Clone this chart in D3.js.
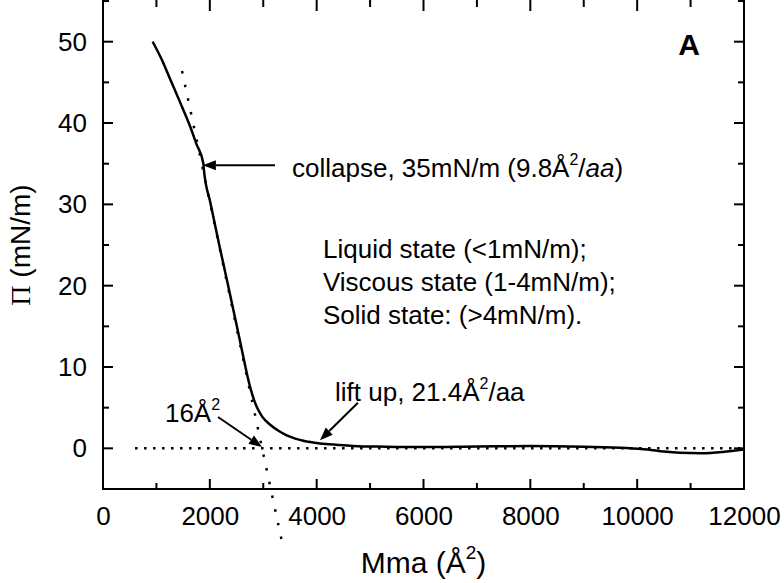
<!DOCTYPE html>
<html><head><meta charset="utf-8">
<script src="https://cdn.jsdelivr.net/npm/d3@7"></script>
<style>html,body{margin:0;padding:0;background:#fff;}svg{display:block;font-family:"Liberation Sans",Arial,sans-serif;}</style>
</head><body>
<svg id="c" width="784" height="583"></svg>
<script>
// Data: surface pressure isotherm
const areaX = [930, 1100, 1250, 1440, 1630, 1750, 1880, 1888, 2010, 2170, 2333, 2500, 2600, 2690, 2760, 2830, 2900, 2980, 3130, 3300, 3440, 3600, 3750, 4060, 4400, 4680, 5300, 5940, 7000, 8000, 9000, 9800, 10200, 10500, 10800, 11200, 11600, 12000];
const pressureY = [50, 47.8, 45.5, 42.6, 39.6, 37.4, 35.0, 34.3, 30.2, 25.2, 20.3, 15.2, 12.1, 9.3, 7.4, 5.9, 4.8, 3.9, 2.9, 2.1, 1.6, 1.2, 0.93, 0.6, 0.42, 0.3, 0.2, 0.15, 0.22, 0.28, 0.2, 0.05, -0.15, -0.4, -0.55, -0.6, -0.45, -0.15];
const tangentX = [1480, 3370];
const tangentY = [46.4, -12.1];
const baselineX = [600, 12000];
const baselineY = [0, 0];
const xTicks = [0, 2000, 4000, 6000, 8000, 10000, 12000];
const yTicks = [0, 10, 20, 30, 40, 50];

const svg = d3.select("#c");
const L = 103, R = 744, T = -1, B = 489;
const x = d3.scaleLinear().domain([0, 12000]).range([L, R]);
const y = d3.scaleLinear().domain([-5, 55.25]).range([B, T]);

function axes() {
  const g = svg.append("g");
  const minorX = d3.range(0, 12001, 1000);
  const minorY = d3.range(-5, 56, 5);
  g.append("rect").attr("x", L).attr("y", T).attr("width", R - L).attr("height", B - T)
    .attr("fill", "none").attr("stroke", "#000").attr("stroke-width", 2);
  minorX.forEach(v => {
    const len = v % 2000 === 0 ? 10 : 6;
    g.append("line").attr("x1", x(v)).attr("x2", x(v)).attr("y1", B).attr("y2", B - len).attr("stroke", "#000").attr("stroke-width", 2);
    g.append("line").attr("x1", x(v)).attr("x2", x(v)).attr("y1", T).attr("y2", T + len + 2).attr("stroke", "#000").attr("stroke-width", 2);
  });
  minorY.forEach(v => {
    const len = v % 10 === 0 ? 10 : 6;
    g.append("line").attr("y1", y(v)).attr("y2", y(v)).attr("x1", L).attr("x2", L + len).attr("stroke", "#000").attr("stroke-width", 2);
    g.append("line").attr("y1", y(v)).attr("y2", y(v)).attr("x1", R).attr("x2", R - len).attr("stroke", "#000").attr("stroke-width", 2);
  });
  const ax = svg.append("g").attr("transform", `translate(0,${B})`)
    .call(d3.axisBottom(x).tickValues(xTicks).tickSize(0).tickPadding(0).tickFormat(d3.format("d")));
  ax.select(".domain").remove();
  ax.selectAll("text").attr("font-size", 26).attr("font-family", "Liberation Sans, Arial, sans-serif").attr("fill", "#000").attr("dy", null).attr("y", 36);
  const ay = svg.append("g").attr("transform", `translate(${L},0)`)
    .call(d3.axisLeft(y).tickValues(yTicks).tickSize(0).tickPadding(16).tickFormat(d3.format("d")));
  ay.select(".domain").remove();
  ay.selectAll("text").attr("font-size", 26).attr("font-family", "Liberation Sans, Arial, sans-serif").attr("fill", "#000");
}
axes();

const line = d3.line().x(d => x(d[0])).y(d => y(d[1]));
svg.append("path").datum(baselineX.map((v, i) => [v, baselineY[i]]))
  .attr("d", line).attr("fill", "none").attr("stroke", "#000").attr("stroke-width", 2.5).attr("stroke-dasharray", "2.5,6.5");
svg.append("path").datum(tangentX.map((v, i) => [v, tangentY[i]]))
  .attr("d", line).attr("fill", "none").attr("stroke", "#000").attr("stroke-width", 2.5).attr("stroke-dasharray", "2.5,11.5");

svg.append("path").datum(areaX.map((v, i) => [v, pressureY[i]]))
  .attr("d", d3.line().x(d => x(d[0])).y(d => y(d[1])).curve(d3.curveMonotoneX))
  .attr("fill", "none").attr("stroke", "#000").attr("stroke-width", 2.5).attr("stroke-linejoin", "round");

function arrow(x1, y1, x2, y2) {
  const X1 = x(x1), Y1 = y(y1), X2 = x(x2), Y2 = y(y2);
  const a = Math.atan2(Y2 - Y1, X2 - X1);
  const hl = 13, hw = 5;
  const bx = X2 - hl * Math.cos(a), by = Y2 - hl * Math.sin(a);
  svg.append("line").attr("x1", X1).attr("y1", Y1).attr("x2", bx).attr("y2", by).attr("stroke", "#000").attr("stroke-width", 2);
  const px = -Math.sin(a) * hw, py = Math.cos(a) * hw;
  svg.append("path").attr("d", `M${X2},${Y2}L${bx + px},${by + py}L${bx - px},${by - py}Z`).attr("fill", "#000");
}
arrow(3220, 34.8, 1870, 34.8);
arrow(4773, 5.6, 4062, 1.0);
arrow(2153, 3.85, 2976, 0.16);

const fs = 26;
function txt(xv, yv, anchor) {
  return svg.append("text").attr("x", x(xv)).attr("y", y(yv)).attr("font-size", fs).attr("text-anchor", anchor || "start").attr("fill", "#000");
}
let t = txt(3538, 33.4);
t.append("tspan").text("collapse, 35mN/m (9.8Å");
t.append("tspan").attr("font-size", 16).attr("dy", -12).text("2");
t.append("tspan").attr("dy", 12).text("/");
t.append("tspan").attr("font-style", "italic").text("aa");
t.append("tspan").text(")");

txt(4118, 23.4).text("Liquid state (<1mN/m);");
txt(4118, 19.35).text("Viscous state (1-4mN/m);");
txt(4118, 15.3).text("Solid state: (>4mN/m).");

t = txt(4343, 5.8);
t.append("tspan").text("lift up, 21.4Å");
t.append("tspan").attr("font-size", 16).attr("dy", -12).text("2");
t.append("tspan").attr("dy", 12).text("/aa");

t = txt(1160, 3.2);
t.append("tspan").text("16Å");
t.append("tspan").attr("font-size", 16).attr("dy", -12).text("2");

txt(11176, 48.4, "end").attr("font-weight", "bold").attr("font-size", 30).text("A");

t = svg.append("text").attr("x", (L + R) / 2).attr("y", 573).attr("text-anchor", "middle").attr("font-size", 30);
t.append("tspan").text("Mma (Å");
t.append("tspan").attr("font-size", 19).attr("dy", -14).text("2");
t.append("tspan").attr("dy", 14).text(")");

t = svg.append("text").attr("transform", `translate(30,${(1 + B) / 2}) rotate(-90)`).attr("text-anchor", "middle").attr("font-size", 28);
t.append("tspan").attr("font-family", "Liberation Serif, Times New Roman, serif").text("Π");
t.append("tspan").text(" (mN/m)");
</script>
</body></html>
